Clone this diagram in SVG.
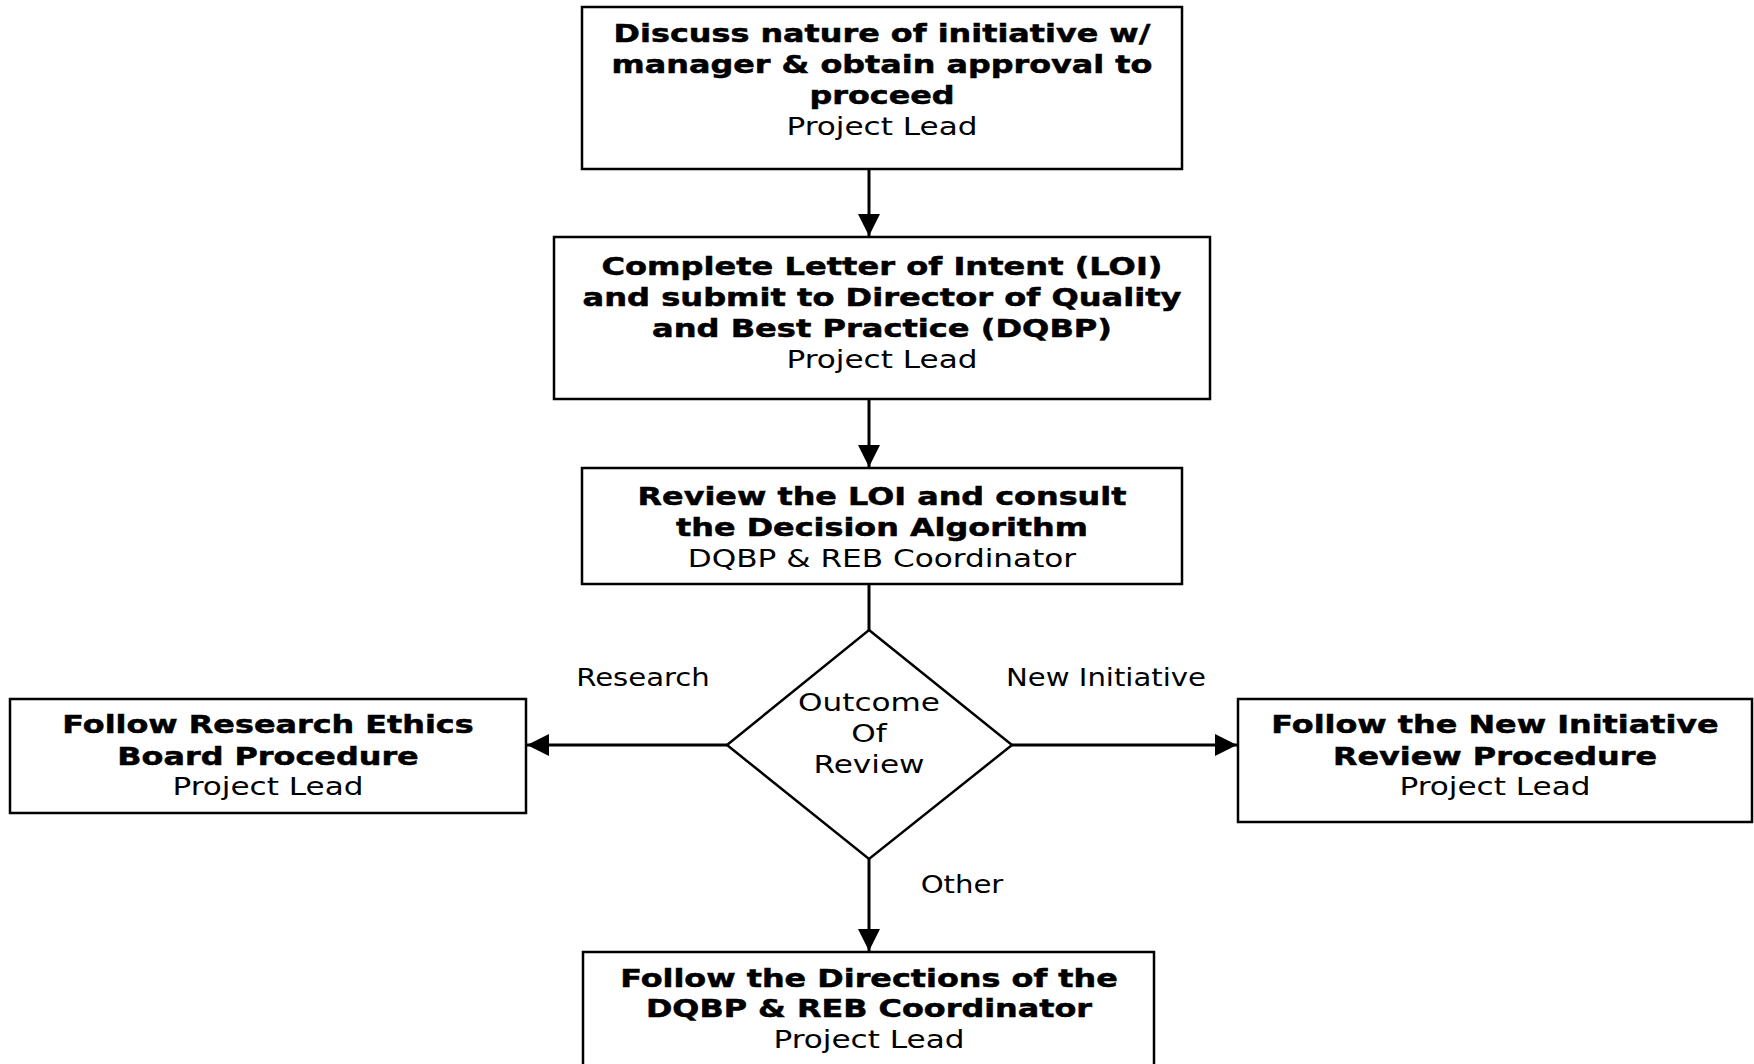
<svg xmlns="http://www.w3.org/2000/svg" width="1754" height="1064" viewBox="0 0 1754 1064">
<style>
  .box { fill: #ffffff; stroke: #000000; stroke-width: 2.5; }
  .conn { fill: none; stroke: #000000; stroke-width: 3; }
  text { font-family: "DejaVu Sans", Verdana, sans-serif; font-size: 24.5px; fill: #000000; text-anchor: middle; }
  .b { font-weight: bold; stroke: #000000; stroke-width: 0.5; }
</style>
<defs>
  <marker id="arrow" markerUnits="userSpaceOnUse" markerWidth="24" markerHeight="24" refX="22" refY="11" orient="auto">
    <path d="M0,0 L22,11 L0,22 Z" fill="#000000"/>
  </marker>
</defs>
<rect width="1754" height="1064" fill="#ffffff"/>

<g id="connectors">
  <line class="conn" x1="869" y1="169" x2="869" y2="236" marker-end="url(#arrow)"/>
  <line class="conn" x1="869" y1="399" x2="869" y2="467" marker-end="url(#arrow)"/>
  <line class="conn" x1="869" y1="584" x2="869" y2="630"/>
  <line class="conn" x1="727" y1="745" x2="527" y2="745" marker-end="url(#arrow)"/>
  <line class="conn" x1="1012" y1="745" x2="1237" y2="745" marker-end="url(#arrow)"/>
  <line class="conn" x1="869" y1="859" x2="869" y2="951" marker-end="url(#arrow)"/>
  <text transform="translate(643 686) scale(1.19 1)" x="0" y="0">Research</text>
  <text transform="translate(1106 686) scale(1.19 1)" x="0" y="0">New Initiative</text>
  <text transform="translate(962 893) scale(1.19 1)" x="0" y="0">Other</text>
</g>

<g id="node-discuss">
  <rect class="box" x="582" y="7" width="600" height="162"/>
  <g transform="translate(882 0) scale(1.3 1)">
    <text class="b" x="0" y="42">Discuss nature of initiative w/</text>
    <text class="b" x="0" y="73">manager &amp; obtain approval to</text>
    <text class="b" x="0" y="104">proceed</text>
  </g>
  <text transform="translate(882 135) scale(1.27 1)" x="0" y="0">Project Lead</text>
</g>

<g id="node-loi">
  <rect class="box" x="554" y="237" width="656" height="162"/>
  <g transform="translate(882 0) scale(1.31 1)">
    <text class="b" x="0" y="275">Complete Letter of Intent (LOI)</text>
    <text class="b" x="0" y="306">and submit to Director of Quality</text>
    <text class="b" x="0" y="337">and Best Practice (DQBP)</text>
  </g>
  <text transform="translate(882 368) scale(1.27 1)" x="0" y="0">Project Lead</text>
</g>

<g id="node-review">
  <rect class="box" x="582" y="468" width="600" height="116"/>
  <g transform="translate(882 0) scale(1.3 1)">
    <text class="b" x="0" y="505">Review the LOI and consult</text>
    <text class="b" x="0" y="536">the Decision Algorithm</text>
  </g>
  <text transform="translate(882 567) scale(1.27 1)" x="0" y="0">DQBP &amp; REB Coordinator</text>
</g>

<g id="node-outcome">
  <polygon class="box" points="869,630 1012,745 869,859 727,745"/>
  <g transform="translate(869 0) scale(1.27 1)">
    <text x="0" y="711">Outcome</text>
    <text x="0" y="742">Of</text>
    <text x="0" y="773">Review</text>
  </g>
</g>

<g id="node-reb">
  <rect class="box" x="10" y="699" width="516" height="114"/>
  <g transform="translate(268 0) scale(1.3 1)">
    <text class="b" x="0" y="733">Follow Research Ethics</text>
    <text class="b" x="0" y="765">Board Procedure</text>
  </g>
  <text transform="translate(268 795) scale(1.27 1)" x="0" y="0">Project Lead</text>
</g>

<g id="node-newinit">
  <rect class="box" x="1238" y="699" width="514" height="123"/>
  <g transform="translate(1495 0) scale(1.3 1)">
    <text class="b" x="0" y="733">Follow the New Initiative</text>
    <text class="b" x="0" y="765">Review Procedure</text>
  </g>
  <text transform="translate(1495 795) scale(1.27 1)" x="0" y="0">Project Lead</text>
</g>

<g id="node-directions">
  <rect class="box" x="583" y="952" width="571" height="130"/>
  <g transform="translate(869 0) scale(1.3 1)">
    <text class="b" x="0" y="987">Follow the Directions of the</text>
    <text class="b" x="0" y="1017">DQBP &amp; REB Coordinator</text>
  </g>
  <text transform="translate(869 1048) scale(1.27 1)" x="0" y="0">Project Lead</text>
</g>
</svg>
